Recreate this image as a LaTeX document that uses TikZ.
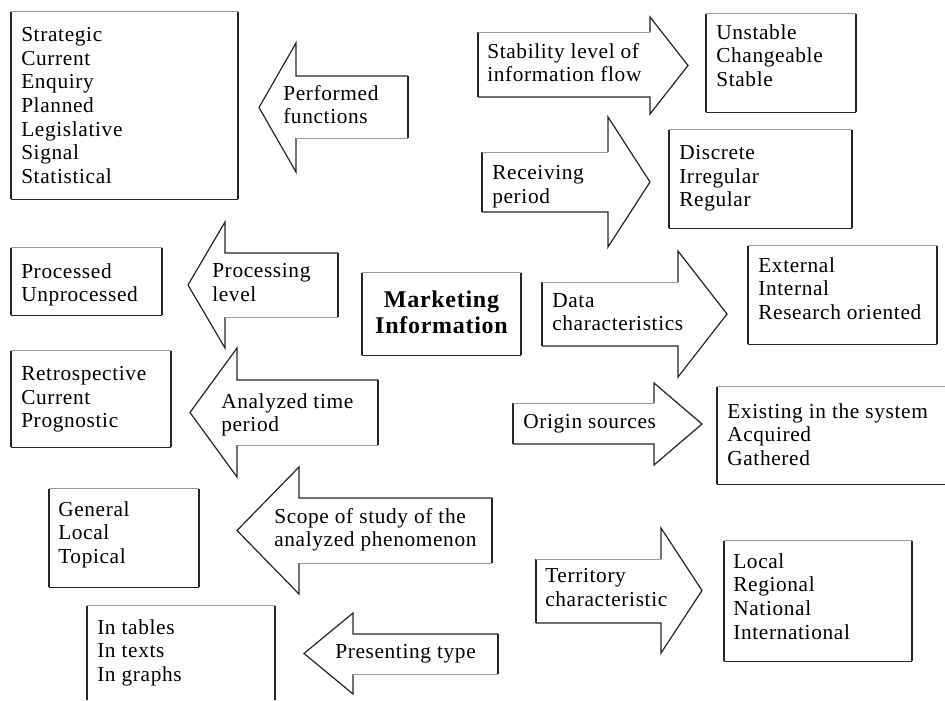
\documentclass[tikz,border=0pt]{standalone}
\usepackage{fontspec}
\setmainfont{Liberation Serif}[LetterSpace=3]
\usetikzlibrary{fit}
\tikzset{
  frame/.style={inner sep=0pt, draw=none},
  boxside/.style={line width=1.4pt, black!85},
  boxbot/.style={line width=0.9pt, black!85},
  lighttop/.style={line width=0.5pt, black!40},
  arrline/.style={line width=0.9pt, black!85, line join=miter},
  arrback/.style={line width=1.3pt, black!85},
  lbl/.style={inner sep=0pt, align=left, anchor=north west, font=\fontsize{16}{17.75}\selectfont},
  title/.style={inner sep=0pt, align=center, font=\fontsize{18}{19.5}\selectfont\bfseries}
}
\newcommand\DrawFrame[1]{%
  \draw[boxside] (#1.north west) -- (#1.south west);
  \draw[boxside] (#1.north east) -- (#1.south east);
  \draw[boxbot] (#1.south west) -- (#1.south east);
  \draw[lighttop] (#1.north west) -- (#1.north east);}
% #1 back x, #2 head x, #3 tip x, #4 shaft top, #5 shaft bottom, #6 head top, #7 head bottom
\newcommand\RArrow[7]{%
  \draw[arrline] (#2,#4) -- (#2,#6) -- (#3,{(#6+#7)/2}) -- (#2,#7) -- (#2,#5) -- (#1,#5);
  \draw[arrback] (#1,#5) -- (#1,#4);
  \draw[lighttop] (#1,#4) -- (#2,#4);}
\newcommand\LArrow[7]{%
  \draw[arrback] (#1,#5) -- (#1,#4);
  \draw[arrline] (#1,#4) -- (#2,#4) -- (#2,#6) -- (#3,{(#6+#7)/2}) -- (#2,#7) -- (#2,#5);
  \draw[lighttop] (#2,#5) -- (#1,#5);}
\begin{document}
\begin{tikzpicture}[x=0.75pt, y=-0.75pt]
\useasboundingbox[fill=white] (0,0) rectangle (945,700);

% ---------- boxes ----------
\node[frame, fit={(11,12) (238,199)}] (strat) {};
\node[frame, fit={(706,14) (856,112)}] (unst) {};
\node[frame, fit={(669,130) (852,228)}] (disc) {};
\node[frame, fit={(11,248) (162,315)}] (proc) {};
\node[frame, fit={(362,273) (521,355)}] (mkt) {};
\node[frame, fit={(11,351) (171,447)}] (retro) {};
\node[frame, fit={(748,246) (937,344)}] (ext) {};
\node[frame, fit={(49,489) (199,587)}] (gen) {};
\node[frame, fit={(724,541) (912,661)}] (loc) {};
\node[frame, fit={(717,387) (945,484)}] (exist) {};
\node[frame, fit={(87,606) (275,700)}] (tabl) {};
\foreach \b in {strat,unst,disc,proc,mkt,retro,ext,gen,loc}{\DrawFrame{\b}}
% partially visible boxes
\draw[boxside] (exist.north west) -- (exist.south west);
\draw[boxbot] (exist.south west) -- (exist.south east);
\draw[lighttop] (exist.north west) -- (exist.north east);
\draw[boxside] (tabl.north west) -- (tabl.south west);
\draw[boxside] (tabl.north east) -- (tabl.south east);
\draw[lighttop] (tabl.north west) -- (tabl.north east);

% ---------- arrows ----------
\RArrow{478}{650}{688}{32}{97}{17}{114}
\RArrow{482}{608}{650}{152}{212}{117}{247}
\RArrow{542}{678}{727}{282}{346}{251}{377}
\RArrow{513}{654}{702}{403}{444}{383}{465}
\RArrow{536}{661}{702}{559}{623}{528}{653}
\LArrow{408}{296}{259}{76}{138}{43}{172}
\LArrow{338}{225}{188}{253}{317}{222}{348}
\LArrow{378}{237}{190}{380}{445}{348}{477}
\LArrow{492}{299}{237}{498}{563}{467}{594}
\LArrow{498}{353}{304}{634}{674}{613}{694}

% ---------- texts ----------
\node[title] (mktT) at (441.5,312) {Marketing\\Information};

\node[lbl] (stratT) at (21,27) {Strategic\\Current\\Enquiry\\Planned\\Legislative\\Signal\\Statistical};
\node[lbl] (unstT) at (716,24) {Unstable\\Changeable\\Stable};
\node[lbl] (discT) at (679,145) {Discrete\\Irregular\\Regular};
\node[lbl] (procT) at (21,263) {Processed\\Unprocessed};
\node[lbl] (retroT) at (21,366) {Retrospective\\Current\\Prognostic};
\node[lbl] (extT) at (758,257) {External\\Internal\\Research oriented};
\node[lbl] (existT) at (727,403) {Existing in the system\\Acquired\\Gathered};
\node[lbl] (genT) at (58,501) {General\\Local\\Topical};
\node[lbl] (tablT) at (97,619) {In tables\\In texts\\In graphs};
\node[lbl] (locT) at (733,553) {Local\\Regional\\National\\International};

\node[lbl] (perfT) at (283,85) {Performed\\functions};
\node[lbl] (procA) at (212,263) {Processing\\level};
\node[lbl] (anaA) at (221,393) {Analyzed time\\period};
\node[lbl] (scopeA) at (274,508) {Scope of study of the\\analyzed phenomenon};
\node[lbl] (presA) at (335,644) {Presenting type};
\node[lbl] (stabA) at (487,43) {Stability level of\\information flow};
\node[lbl] (recA) at (492,165) {Receiving\\period};
\node[lbl] (dataA) at (552,293) {Data\\characteristics};
\node[lbl] (origA) at (523,414) {Origin sources};
\node[lbl] (terrA) at (545,568) {Territory\\characteristic};
\end{tikzpicture}
\end{document}
